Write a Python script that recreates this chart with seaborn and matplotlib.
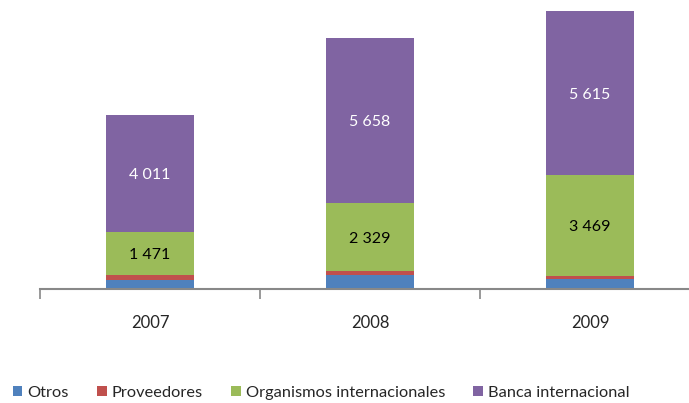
import matplotlib
matplotlib.use("Agg")
import matplotlib.pyplot as plt
import seaborn as sns
import numpy as np
from matplotlib.patches import Patch

years = ["2007", "2008", "2009"]
otros = [310, 480, 360]
proveedores = [170, 140, 80]
organismos = [1471, 2329, 3469]
banca = [4011, 5658, 5615]

series_names = ["Otros", "Proveedores", "Organismos internacionales", "Banca internacional"]
series_vals = [otros, proveedores, organismos, banca]
colors = ["#4F81BD", "#C0504D", "#9BBB59", "#8064A2"]
label_series = {2: "black", 3: "white"}

sns.set_theme(style="white")
plt.rcParams["font.family"] = ["Lato", "DejaVu Sans"]

fig = plt.figure(figsize=(6.89, 4.03), dpi=100)
ax = fig.add_axes([40/689, (403-289)/403, 660/689, 289/403])

bottom = np.zeros(len(years))
for i, (name, vals, col) in enumerate(zip(series_names, series_vals, colors)):
    vals = np.array(vals, dtype=float)
    sns.barplot(x=years, y=vals, bottom=bottom, color=col, width=0.4, ax=ax,
                edgecolor="none", linewidth=0, saturation=1)
    if i in label_series:
        for j, v in enumerate(vals):
            txt = f"{int(v):,}".replace(",", " ")
            ax.text(j, bottom[j] + v/2 - 60, txt, ha="center", va="center",
                    fontsize=11.5, color=label_series[i])
    bottom = bottom + vals

ax.set_xlim(-0.5, 2.5)
ax.set_ylim(0, 9910)
for s in ["top", "right", "left"]:
    ax.spines[s].set_visible(False)
ax.spines["bottom"].set_color("#888888")
ax.spines["bottom"].set_linewidth(1.5)
ax.set_yticks([])
ax.set_xticks([-0.5, 0.5, 1.5, 2.5])
ax.set_xticklabels([])
ax.tick_params(axis="x", which="major", length=7, width=1.2, color="#888888", direction="out", bottom=True)
ax.set_xticks([0, 1, 2], minor=True)
ax.set_xticklabels(years, minor=True, fontsize=12)
ax.tick_params(axis="x", which="minor", length=0, pad=19)
ax.set_xlabel("")
ax.set_ylabel("")

handles = [Patch(facecolor=c, edgecolor="none") for c in colors]
fig.legend(handles, series_names, loc="center left", bbox_to_anchor=(6/689, 10/403),
           ncol=4, frameon=False, fontsize=11.8, handlelength=0.6, handleheight=0.6,
           handletextpad=0.3, columnspacing=1.72, borderaxespad=0)

fig.savefig("out.png", dpi=100)
